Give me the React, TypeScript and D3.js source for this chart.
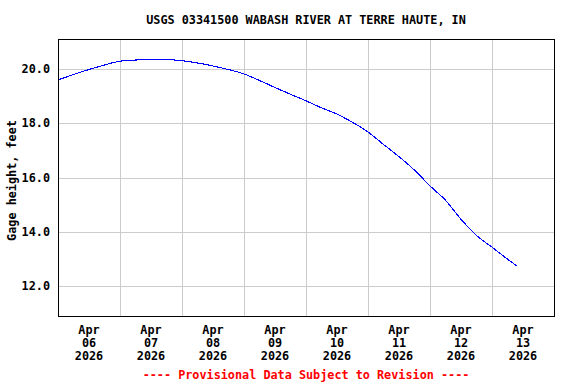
import React from 'react';
import * as d3 from 'd3';

// Gage height readings (hours after Apr 06 2026 00:00, feet)
const hours = [0, 4.5, 11.5, 16.5, 24, 31.5, 39.5, 48, 55, 62.5, 72, 78, 84, 90, 96, 101.5, 108, 113, 120, 126, 132, 138, 144, 150, 156, 162, 168, 173, 177.75];
const gage = [19.6, 19.75, 19.97, 20.11, 20.29, 20.34, 20.36, 20.31, 20.21, 20.06, 19.82, 19.58, 19.32, 19.07, 18.83, 18.59, 18.34, 18.09, 17.68, 17.22, 16.77, 16.27, 15.69, 15.16, 14.46, 13.86, 13.43, 13.06, 12.73];

const yTicks = [12, 14, 16, 18, 20];
const dayLabels = ['06', '07', '08', '09', '10', '11', '12', '13'];

const W = 576;
const H = 384;
const margin = { top: 39, right: 22, bottom: 68, left: 58 };
const FONT = '"DejaVu Sans Mono", "Liberation Mono", monospace';

const start = Date.UTC(2026, 3, 6);
const HOUR = 3600 * 1000;

export default function App() {
  const x = d3.scaleUtc()
    .domain([new Date(start), new Date(start + 8 * 24 * HOUR)])
    .range([margin.left, W - margin.right]);
  const y = d3.scaleLinear()
    .domain([10.89, 21.11])
    .range([H - margin.bottom, margin.top]);

  const points = hours.map((h, i) => ({ t: new Date(start + h * HOUR), v: gage[i] }));
  const line = d3.line<{ t: Date; v: number }>()
    .x(d => x(d.t))
    .y(d => y(d.v))
    .curve(d3.curveMonotoneX);

  const days = dayLabels.map((_, i) => new Date(start + i * 24 * HOUR));
  const x0 = margin.left, x1 = W - margin.right;
  const y0 = margin.top, y1 = H - margin.bottom;
  const cx = (x0 + x1) / 2;

  return (
    <svg width={W} height={H} style={{ position: 'fixed', left: 0, top: 0, background: 'white' }}
      fontFamily={FONT} fontWeight="bold" fontSize={11.8}>
      <rect x={0} y={0} width={W} height={H} fill="white" />
      <text x={cx} y={24} textAnchor="middle" fill="black">
        USGS 03341500 WABASH RIVER AT TERRE HAUTE, IN
      </text>

      {/* grid */}
      {yTicks.map(t => (
        <line key={'h' + t} x1={x0} x2={x1} y1={Math.round(y(t)) + 0.5} y2={Math.round(y(t)) + 0.5}
          stroke="#cccccc" strokeWidth={1} />
      ))}
      {days.slice(1).map((d, i) => (
        <line key={'v' + i} x1={Math.round(x(d)) + 0.5} x2={Math.round(x(d)) + 0.5} y1={y0} y2={y1}
          stroke="#cccccc" strokeWidth={1} />
      ))}

      {/* data */}
      <path d={line(points) || ''} fill="none" stroke="#0000ff" strokeWidth={1.1} shapeRendering="crispEdges" />

      {/* frame */}
      <rect x={x0 + 0.5} y={y0 + 0.5} width={x1 - x0} height={y1 - y0} fill="none" stroke="black" strokeWidth={1} />

      {/* y tick labels */}
      {yTicks.map(t => (
        <text key={'yl' + t} x={50} y={y(t)} dy="0.35em" textAnchor="end" fill="black">
          {t.toFixed(1)}
        </text>
      ))}
      <text transform={`translate(16,${(y0 + y1) / 2 + 3}) rotate(-90)`} textAnchor="middle" fill="black">
        Gage height, feet
      </text>

      {/* x tick labels */}
      {days.map((d, i) => {
        const mx = x(new Date(d.getTime() + 12 * HOUR));
        return (
          <text key={'xl' + i} x={mx} textAnchor="middle" fill="black">
            <tspan x={mx} y={334}>Apr</tspan>
            <tspan x={mx} y={347}>{dayLabels[i]}</tspan>
            <tspan x={mx} y={360}>2026</tspan>
          </text>
        );
      })}

      <text x={cx} y={379} textAnchor="middle" fill="#ff0000">
        ---- Provisional Data Subject to Revision ----
      </text>
    </svg>
  );
}
